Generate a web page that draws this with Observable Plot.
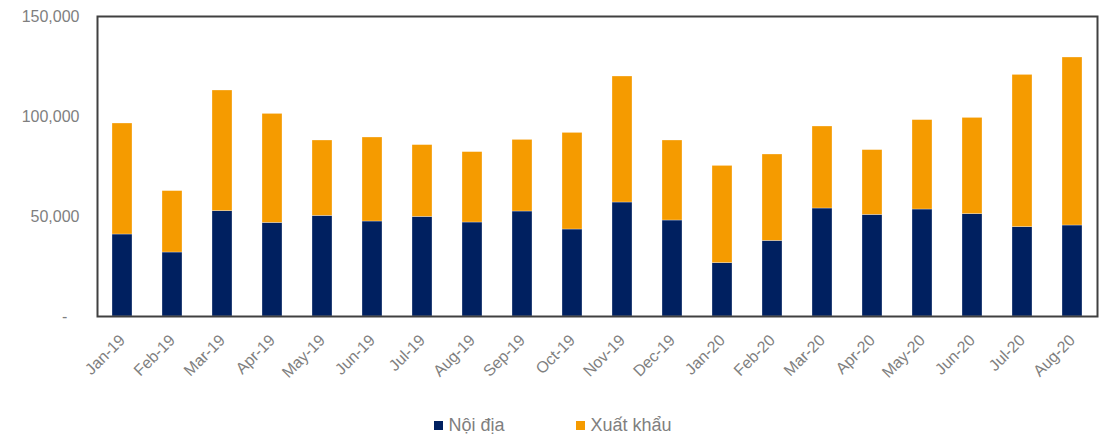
<!DOCTYPE html>
<html>
<head>
<meta charset="utf-8">
<script src="https://cdn.jsdelivr.net/npm/d3@7"></script>
<script src="https://cdn.jsdelivr.net/npm/@observablehq/plot@0.6"></script>
<style>
  body { margin: 0; background: #fff; font-family: "Liberation Sans", Arial, sans-serif; overflow: hidden; }
  #chart svg { display: block; }
  .legend { display: flex; justify-content: center; gap: 72px; font-size: 18px; color: #7f7f7f; height: 21px; line-height: 21px; margin-top: 2px; }
  .legend span { display: inline-flex; align-items: center; }
  .legend i { display: inline-block; width: 9px; height: 9px; margin-right: 5px; }
</style>
</head>
<body>
<div id="chart"></div>
<div class="legend" id="legend"></div>
<script>
const months = ["Jan-19","Feb-19","Mar-19","Apr-19","May-19","Jun-19","Jul-19","Aug-19","Sep-19","Oct-19","Nov-19","Dec-19",
                "Jan-20","Feb-20","Mar-20","Apr-20","May-20","Jun-20","Jul-20","Aug-20"];
const domestic = [41000, 32000, 52700, 46800, 50300, 47500, 49800, 47000, 52500, 43500, 57000, 48000,
                  26700, 37800, 54000, 50800, 53500, 51200, 44700, 45500];
const exportVals = [55500, 30700, 60300, 54500, 37700, 42000, 35900, 35200, 35800, 48300, 63000, 40000,
                  48600, 43200, 41000, 32400, 44700, 48100, 76100, 84000];
const seriesNames = ["Nội địa", "Xuất khẩu"];
const seriesColors = ["#002060", "#F59B00"];
const yTicks = [0, 50000, 100000, 150000];

const data = [];
months.forEach((m, i) => {
  data.push({month: m, series: seriesNames[0], value: domestic[i]});
  data.push({month: m, series: seriesNames[1], value: exportVals[i]});
});

const chart = Plot.plot({
  width: 1106,
  height: 413,
  marginLeft: 97,
  marginRight: 9,
  marginTop: 16,
  marginBottom: 97,
  style: {fontFamily: "Liberation Sans, Arial, sans-serif", fontSize: "16px", color: "#7f7f7f", background: "#fff"},
  x: {domain: months, paddingInner: 0.6, paddingOuter: 0.3, label: null},
  y: {domain: [0, 150000], label: null},
  color: {domain: seriesNames, range: seriesColors},
  marks: [
    Plot.barY(data, {x: "month", y: "value", fill: "series", stroke: "#fff", strokeWidth: 0.5, strokeOpacity: 0.6}),
    Plot.axisX({tickSize: 0, tickPadding: 21, tickRotate: -45, fontSize: 16, fill: "#7f7f7f", label: null}),
    Plot.axisY(yTicks, {tickSize: 0, tickPadding: 18, fontSize: 16, fill: "#7f7f7f", label: null,
      tickFormat: d => d === 0 ? "-\u2007\u2009" : d3.format(",")(d)}),
    Plot.frame({stroke: "#404040", strokeWidth: 2})
  ]
});
document.getElementById("chart").appendChild(chart);

const legend = document.getElementById("legend");
seriesNames.forEach((n, i) => {
  const s = document.createElement("span");
  s.innerHTML = `<i style="background:${seriesColors[i]}"></i>${n}`;
  legend.appendChild(s);
});
</script>
</body>
</html>
